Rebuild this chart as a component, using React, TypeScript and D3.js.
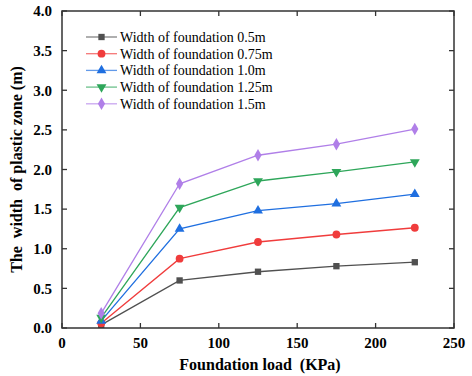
import * as d3 from 'd3'

const loads = [25, 75, 125, 175, 225]
const seriesNames = [
  'Width of foundation 0.5m',
  'Width of foundation 0.75m',
  'Width of foundation 1.0m',
  'Width of foundation 1.25m',
  'Width of foundation 1.5m',
]
const w05 = [0.04, 0.6, 0.71, 0.78, 0.83]
const w075 = [0.06, 0.875, 1.085, 1.18, 1.265]
const w10 = [0.09, 1.25, 1.48, 1.57, 1.69]
const w125 = [0.13, 1.52, 1.855, 1.97, 2.095]
const w15 = [0.185, 1.82, 2.18, 2.32, 2.51]
const xTicks = [0, 50, 100, 150, 200, 250]
const yTicks = [0, 0.5, 1.0, 1.5, 2.0, 2.5, 3.0, 3.5, 4.0]

const colors = ['#505050', '#f03c3c', '#1f6fe0', '#2ea65a', '#b07fe8']
const symbols = [d3.symbolSquare, d3.symbolCircle, d3.symbolTriangle, 'down', d3.symbolDiamond]

const width = 472
const height = 376
const margin = { top: 11, right: 18, bottom: 48, left: 62 }
const innerWidth = width - margin.left - margin.right
const innerHeight = height - margin.top - margin.bottom
const font = 'Liberation Serif'

function Marker({ x, y, i }: { x: number; y: number; i: number }) {
  const s = symbols[i]
  if (s === 'down') {
    const p = d3.symbol(d3.symbolTriangle, 42)()
    return <path d={p || ''} transform={`translate(${x},${y}) rotate(180)`} fill={colors[i]} />
  }
  const size = i === 4 ? 45 : i === 1 ? 48 : i === 2 ? 42 : 40
  const p = d3.symbol(s as d3.SymbolType, size)()
  return <path d={p || ''} transform={`translate(${x},${y})`} fill={colors[i]} />
}

export default function App() {
  const data = [w05, w075, w10, w125, w15]
  const xScale = d3.scaleLinear().domain([0, 250]).range([0, innerWidth])
  const yScale = d3.scaleLinear().domain([0, 4]).range([innerHeight, 0])
  const line = d3
    .line<number>()
    .x((_, j) => xScale(loads[j]))
    .y((d) => yScale(d))

  return (
    <svg width={width} height={height} style={{ position: 'absolute', left: 0, top: 0, background: '#fff' }}>
      <g transform={`translate(${margin.left},${margin.top})`}>
        {data.map((vals, i) => (
          <g key={i}>
            <path d={line(vals) || ''} fill="none" stroke={colors[i]} strokeWidth={1.3} />
            {vals.map((v, j) => (
              <Marker key={j} x={xScale(loads[j])} y={yScale(v)} i={i} />
            ))}
          </g>
        ))}

        <rect x={0} y={0} width={innerWidth} height={innerHeight} fill="none" stroke="#333" strokeWidth={1.5} />

        {xTicks.map((t) => (
          <g key={t}>
            <line x1={xScale(t)} x2={xScale(t)} y1={innerHeight} y2={innerHeight - 5} stroke="#333" strokeWidth={1.3} />
            <line x1={xScale(t)} x2={xScale(t)} y1={0} y2={5} stroke="#333" strokeWidth={1.3} />
            <text x={xScale(t)} y={innerHeight + 20} textAnchor="middle" fontFamily={font} fontSize={15} fontWeight="bold">
              {t}
            </text>
          </g>
        ))}
        {yTicks.map((t) => (
          <g key={t}>
            <line x1={0} x2={5} y1={yScale(t)} y2={yScale(t)} stroke="#333" strokeWidth={1.3} />
            <line x1={innerWidth} x2={innerWidth - 5} y1={yScale(t)} y2={yScale(t)} stroke="#333" strokeWidth={1.3} />
            <text x={-10} y={yScale(t)} dy="0.35em" textAnchor="end" fontFamily={font} fontSize={15} fontWeight="bold">
              {t.toFixed(1)}
            </text>
          </g>
        ))}

        <text
          x={innerWidth / 2 + 2}
          y={innerHeight + 42}
          textAnchor="middle"
          fontFamily={font}
          fontSize={16}
          fontWeight="bold"
          style={{ whiteSpace: 'pre' }}
        >
          {'Foundation load  (KPa)'}
        </text>
        <text
          transform={`translate(${-40},${innerHeight / 2}) rotate(-90)`}
          textAnchor="middle"
          fontFamily={font}
          fontSize={16}
          fontWeight="bold"
          style={{ whiteSpace: 'pre' }}
        >
          {'The  width  of plastic zone (m)'}
        </text>

        {seriesNames.map((name, i) => {
          const ly = 26 + i * 16.7
          return (
            <g key={name}>
              <line x1={24} x2={55} y1={ly} y2={ly} stroke={colors[i]} strokeOpacity={0.7} strokeWidth={1.3} />
              <Marker x={39.5} y={ly} i={i} />
              <text x={58} y={ly} dy="0.35em" fontFamily={font} fontSize={14}>
                {name}
              </text>
            </g>
          )
        })}
      </g>
    </svg>
  )
}
